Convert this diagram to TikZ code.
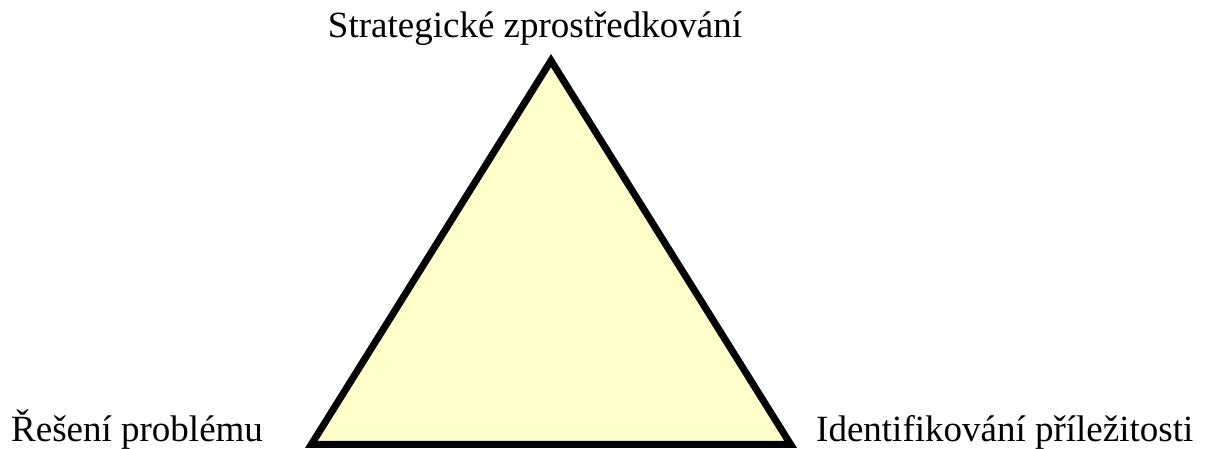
\documentclass[tikz,border=0pt]{standalone}
\usepackage{fontspec}
\setmainfont{Liberation Serif}
\definecolor{triFill}{HTML}{FFFFCC}
\begin{document}
\begin{tikzpicture}[x=1pt,y=1pt,
  lbl/.style={inner sep=0pt,font=\fontsize{37}{44}\selectfont},
  tri/.style={draw=black,line width=7pt,fill=triFill,line join=miter}]
\useasboundingbox (0,0) rectangle (1205,449);
\coordinate (top) at (551,388.4);
\coordinate (bl) at (311.3,4.5);
\coordinate (br) at (790.7,4.5);
\draw[tri] (top) -- (bl) -- (br) -- cycle;
\node[lbl,anchor=base] (t1) at (535,411) {Strategické zprostředkování};
\node[lbl,anchor=base west] (t2) at (11,7) {Řešení problému};
\node[lbl,anchor=base west] (t3) at (816,7) {Identifikování příležitosti};
\end{tikzpicture}
\end{document}
